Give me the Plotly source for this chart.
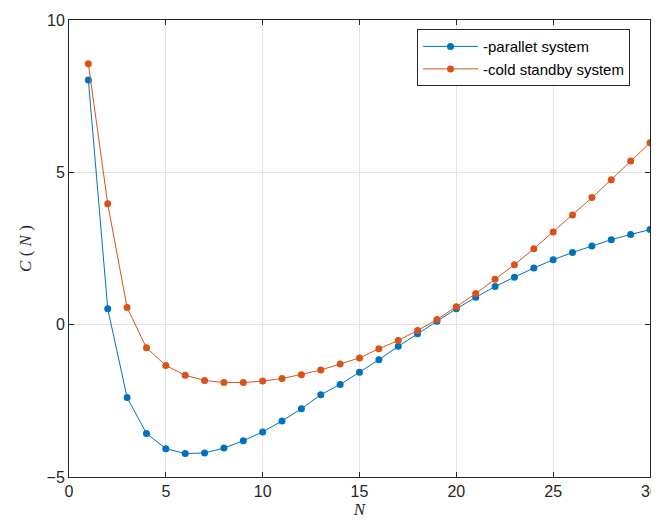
import plotly.graph_objects as go

N = list(range(1, 31))
parallel = [8.03, 0.52, -2.39, -3.57, -4.07, -4.23, -4.21, -4.05, -3.81, -3.52,
            -3.16, -2.76, -2.30, -1.96, -1.56, -1.15, -0.71, -0.30, 0.11, 0.52,
            0.90, 1.25, 1.56, 1.86, 2.13, 2.37, 2.58, 2.79, 2.96, 3.12]
cold_standby = [8.56, 3.97, 0.56, -0.76, -1.34, -1.66, -1.83, -1.90, -1.90, -1.85,
                -1.77, -1.64, -1.49, -1.29, -1.09, -0.79, -0.52, -0.19, 0.17, 0.59,
                1.02, 1.49, 1.97, 2.49, 3.04, 3.60, 4.17, 4.76, 5.37, 5.97]
names = ["-parallet system", "-cold standby system"]
colors = ["#0072BD", "#D95319"]
x_ticks = [0, 5, 10, 15, 20, 25, 30]
y_ticks = [-5, 0, 5, 10]

fig = go.Figure()
for ys, name, col in zip([parallel, cold_standby], names, colors):
    fig.add_trace(go.Scatter(
        x=N, y=ys, name=name, mode="lines+markers",
        line=dict(color=col, width=1),
        marker=dict(color=col, size=7),
        cliponaxis=False,
    ))

axis_common = dict(
    showline=True, linecolor="#262626", linewidth=1, mirror="ticks",
    ticks="inside", ticklen=5, tickcolor="#262626",
    showgrid=True, gridcolor="#E3E3E3", gridwidth=1, zeroline=False,
    automargin=False, ticklabeloverflow="allow",
    tickfont=dict(family="Liberation Sans, Arial", size=16, color="#262626"),
)

fig.update_xaxes(range=[0, 30], tickvals=x_ticks,
                 title=dict(text="<i>N</i>", font=dict(family="Liberation Serif", size=17, color="#262626"), standoff=0),
                 **axis_common)
fig.update_yaxes(range=[-5, 10], tickvals=y_ticks,
                 title=dict(text="<i>C</i> ( <i>N</i> )", font=dict(family="Liberation Serif", size=17, color="#262626"), standoff=10),
                 **axis_common)

# page body has an 8px margin, so offset margins accordingly
fig.update_layout(
    width=651, height=514,
    margin=dict(l=61, r=9, t=12, b=45),
    plot_bgcolor="white", paper_bgcolor="white",
    legend=dict(x=0.599, y=0.980, xanchor="left", yanchor="top",
                bgcolor="white", bordercolor="#262626", borderwidth=1,
                font=dict(family="Liberation Sans, Arial", size=15, color="#000000"),
                tracegroupgap=0, itemwidth=55),
    showlegend=True,
)

fig.write_html("out.html")
